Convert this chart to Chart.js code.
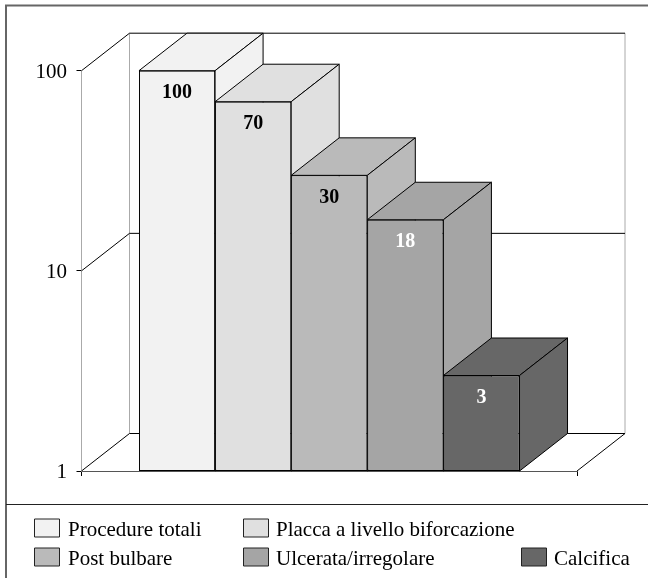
<!DOCTYPE html>
<html>
<head>
    <script src="https://cdn.jsdelivr.net/npm/chart.js"></script>
    <style>
        html, body { margin: 0; padding: 0; background: #fff; }
        canvas { display: block; }
    </style>
</head>
<body>

    <canvas id="myChart" width="648" height="579"></canvas>

    <script>
        const categories = ['Procedure totali', 'Placca a livello biforcazione', 'Post bulbare', 'Ulcerata/irregolare', 'Calcifica'];
        const values = [100, 70, 30, 18, 3];
        const tickValues = [1, 10, 100];
        const barColors = ['#f2f2f2', '#e0e0e0', '#bababa', '#a5a5a5', '#676767'];
        const labelColors = ['#000', '#000', '#000', '#fff', '#fff'];

        const serif = '"Liberation Serif", serif';
        const depthX = 48;
        const depthY = 37.5;

        // legend slots: swatch left, text left, row baseline
        const legendSlots = [
            [34.5, 68, 536], [243.5, 276, 536],
            [34.5, 68, 565], [243.5, 276, 565], [521.5, 554, 565]
        ];

        function line(ctx, x1, y1, x2, y2, color, width) {
            ctx.strokeStyle = color;
            ctx.lineWidth = width || 1;
            ctx.beginPath();
            ctx.moveTo(x1, y1);
            ctx.lineTo(x2, y2);
            ctx.stroke();
        }

        function poly(ctx, pts, fill) {
            ctx.fillStyle = fill;
            ctx.strokeStyle = '#000';
            ctx.lineWidth = 1;
            ctx.lineJoin = 'round';
            ctx.beginPath();
            pts.forEach((p, i) => i ? ctx.lineTo(p[0], p[1]) : ctx.moveTo(p[0], p[1]));
            ctx.closePath();
            ctx.fill();
            ctx.stroke();
        }

        const box3d = {
            id: 'box3d',
            // frame, walls and floor go under everything
            beforeDatasetsDraw(chart) {
                const ctx = chart.ctx;
                const a = chart.chartArea;
                const y = chart.scales.y;
                ctx.save();
                line(ctx, 5, 5.5, 648, 5.5, '#666', 2);
                line(ctx, 6, 5, 6, 578, '#666', 2);
                line(ctx, 6, 504.5, 648, 504.5, '#222');

                line(ctx, a.left + depthX, a.top - depthY, a.left + depthX, a.bottom - depthY, '#aaa');
                line(ctx, a.right + depthX, a.top - depthY, a.right + depthX, a.bottom - depthY, '#aaa');
                line(ctx, a.right, a.bottom, a.right + depthX, a.bottom - depthY, '#000');
                tickValues.forEach(v => {
                    const py = y.getPixelForValue(v);
                    line(ctx, a.left, py, a.left + depthX, py - depthY, '#000');
                    line(ctx, a.left + depthX, py - depthY, a.right + depthX, py - depthY, '#000');
                });

                // tick labels, sitting on the baseline like the original
                ctx.font = '21px ' + serif;
                ctx.fillStyle = '#000';
                ctx.textAlign = 'right';
                ctx.textBaseline = 'alphabetic';
                y.ticks.forEach(t => {
                    ctx.fillText(String(t.value), 67, y.getPixelForValue(t.value) + 7);
                });
                ctx.restore();
            },
            // chart.js paints the last dataset first, the boxes need the opposite
            beforeDatasetDraw() {
                return false;
            },
            afterDatasetsDraw(chart) {
                const ctx = chart.ctx;
                ctx.save();
                chart.data.datasets.forEach((ds, i) => {
                    const meta = chart.getDatasetMeta(i);
                    const bar = meta.data[0];
                    const left = bar.x - bar.width / 2;
                    const right = bar.x + bar.width / 2;
                    poly(ctx, [[left, bar.y], [left + depthX, bar.y - depthY], [right + depthX, bar.y - depthY], [right, bar.y]], barColors[i]);
                    poly(ctx, [[right, bar.y], [right + depthX, bar.y - depthY], [right + depthX, bar.base - depthY], [right, bar.base]], barColors[i]);
                    meta.controller.draw();
                });
                // value labels
                ctx.font = 'bold 20px ' + serif;
                ctx.textAlign = 'center';
                ctx.textBaseline = 'alphabetic';
                chart.data.datasets.forEach((ds, i) => {
                    const bar = chart.getDatasetMeta(i).data[0];
                    ctx.fillStyle = labelColors[i];
                    ctx.fillText(String(ds.data[0]), bar.x, bar.y + 27.5);
                });
                // legend
                ctx.font = '21px ' + serif;
                ctx.textAlign = 'left';
                chart.data.datasets.forEach((ds, i) => {
                    const s = legendSlots[i];
                    ctx.fillStyle = ds.backgroundColor;
                    ctx.strokeStyle = '#222';
                    ctx.lineWidth = 1;
                    ctx.fillRect(s[0], s[2] - 17, 25, 18);
                    ctx.strokeRect(s[0], s[2] - 17, 25, 18);
                    ctx.fillStyle = '#000';
                    ctx.fillText(ds.label, s[1], s[2]);
                });
                ctx.restore();
            }
        };

        const datasets = categories.map((name, i) => ({
            label: name,
            data: [values[i]],
            backgroundColor: barColors[i],
            borderColor: '#000',
            borderWidth: 1,
            borderSkipped: false
        }));

        new Chart(document.getElementById('myChart'), {
            type: 'bar',
            data: { labels: [''], datasets: datasets },
            plugins: [box3d],
            options: {
                responsive: false,
                animation: false,
                layout: { padding: { top: 70.7, right: 71, bottom: 0, left: 0 } },
                categoryPercentage: 0.768,
                barPercentage: 1,
                plugins: { legend: { display: false }, tooltip: { enabled: false } },
                scales: {
                    x: {
                        grid: { offset: true, drawOnChartArea: false, color: '#000', tickLength: 5 },
                        border: { color: '#555' },
                        ticks: { display: false },
                        afterFit: s => { s.height = 108; }
                    },
                    y: {
                        type: 'logarithmic',
                        min: 1,
                        max: 100,
                        afterBuildTicks: s => { s.ticks = tickValues.map(v => ({ value: v })); },
                        grid: { drawOnChartArea: false, color: '#000', tickLength: 5 },
                        border: { color: '#aaa' },
                        ticks: { display: false },
                        afterFit: s => { s.width = 81.5; }
                    }
                }
            }
        });
    </script>

</body>
</html>
